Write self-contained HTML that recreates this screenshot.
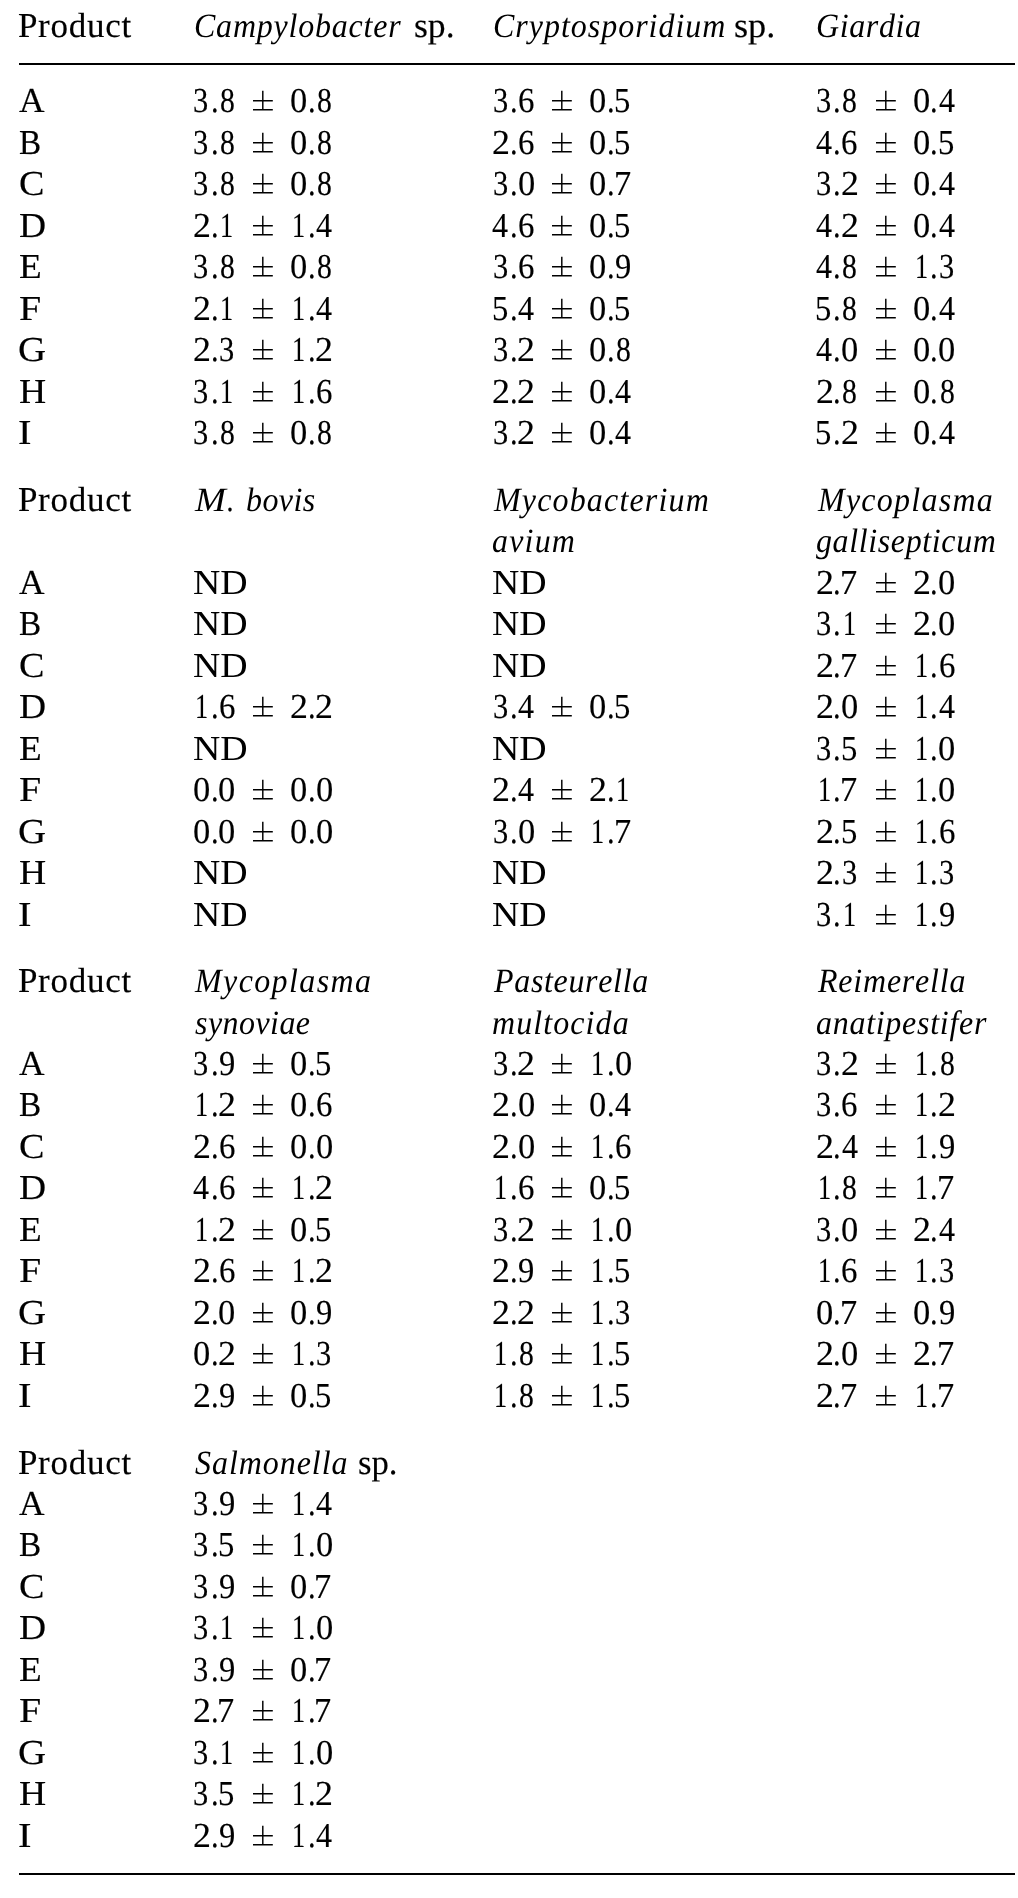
<!DOCTYPE html>
<html><head><meta charset="utf-8"><title>Table</title>
<style>
html,body{margin:0;padding:0;background:#fff;}
body{width:1018px;height:1898px;position:relative;overflow:hidden;}
.t{position:absolute;white-space:pre;font-family:"Liberation Serif",serif;font-size:35px;line-height:40px;height:40px;color:#000;font-kerning:none;text-rendering:geometricPrecision;transform-origin:0 0;}
.r{-webkit-text-stroke:0.15px #000;}
.i{font-style:italic;font-size:34px;}
.pm{position:absolute;overflow:visible;}
.rule{position:absolute;left:19px;width:996px;height:2px;background:#000;}
</style></head><body>
<div id="pg" style="position:absolute;left:0;top:0;width:1018px;height:1898px;will-change:transform">
<svg width="0" height="0" style="position:absolute"><defs><g id="pmg" stroke="#000" stroke-width="1.45" fill="none"><path d="M0 10.7H19.8M0 19.75H19.8M9.8 0.75V19.75"/></g></defs></svg>
<div class="rule" style="top:63px"></div>
<div class="rule" style="top:1873px"></div>
<div class="t r" style="left:17.89px;top:6.00px;letter-spacing:0.75px">Product</div>
<div class="t i" style="left:193.72px;top:7.00px;letter-spacing:0.845px;transform:scaleX(0.9400)">Campylobacter</div>
<div class="t r" style="left:414.34px;top:6.00px;transform:scaleX(1.0186)">sp.</div>
<div class="t i" style="left:492.92px;top:7.00px;letter-spacing:1.064px;transform:scaleX(0.9400)">Cryptosporidium</div>
<div class="t r" style="left:734.31px;top:6.00px;transform:scaleX(1.0352)">sp.</div>
<div class="t i" style="left:815.94px;top:7.00px;letter-spacing:0.682px;transform:scaleX(0.9400)">Giardia</div>
<div class="t r" style="left:18.65px;top:81.10px;transform:scaleX(1.0131)">A</div>
<div class="t r" style="left:193.41px;top:81.10px;transform:scaleX(0.8688)">3</div>
<div class="t r" style="left:210.53px;top:81.10px;transform:scaleX(0.8689)">.</div>
<div class="t r" style="left:219.64px;top:81.10px;transform:scaleX(0.8490)">8</div>
<svg class="pm" style="left:252.90px;top:90px" width="20" height="22"><use href="#pmg"/></svg>
<div class="t r" style="left:290.06px;top:81.10px;transform:scaleX(0.9865)">0</div>
<div class="t r" style="left:307.63px;top:81.10px;transform:scaleX(0.8689)">.</div>
<div class="t r" style="left:316.74px;top:81.10px;transform:scaleX(0.8490)">8</div>
<div class="t r" style="left:492.51px;top:81.10px;transform:scaleX(0.8688)">3</div>
<div class="t r" style="left:509.63px;top:81.10px;transform:scaleX(0.8689)">.</div>
<div class="t r" style="left:517.75px;top:81.10px;transform:scaleX(0.9396)">6</div>
<svg class="pm" style="left:552.00px;top:90px" width="20" height="22"><use href="#pmg"/></svg>
<div class="t r" style="left:589.16px;top:81.10px;transform:scaleX(0.9865)">0</div>
<div class="t r" style="left:606.73px;top:81.10px;transform:scaleX(0.8689)">.</div>
<div class="t r" style="left:614.27px;top:81.10px;transform:scaleX(0.9323)">5</div>
<div class="t r" style="left:816.21px;top:81.10px;transform:scaleX(0.8688)">3</div>
<div class="t r" style="left:833.33px;top:81.10px;transform:scaleX(0.8689)">.</div>
<div class="t r" style="left:842.44px;top:81.10px;transform:scaleX(0.8490)">8</div>
<svg class="pm" style="left:875.70px;top:90px" width="20" height="22"><use href="#pmg"/></svg>
<div class="t r" style="left:912.86px;top:81.10px;transform:scaleX(0.9865)">0</div>
<div class="t r" style="left:930.43px;top:81.10px;transform:scaleX(0.8689)">.</div>
<div class="t r" style="left:938.61px;top:81.10px;transform:scaleX(0.9154)">4</div>
<div class="t r" style="left:19.14px;top:122.60px;transform:scaleX(0.9502)">B</div>
<div class="t r" style="left:193.41px;top:122.60px;transform:scaleX(0.8688)">3</div>
<div class="t r" style="left:210.53px;top:122.60px;transform:scaleX(0.8689)">.</div>
<div class="t r" style="left:219.64px;top:122.60px;transform:scaleX(0.8490)">8</div>
<svg class="pm" style="left:252.90px;top:132px" width="20" height="22"><use href="#pmg"/></svg>
<div class="t r" style="left:290.06px;top:122.60px;transform:scaleX(0.9865)">0</div>
<div class="t r" style="left:307.63px;top:122.60px;transform:scaleX(0.8689)">.</div>
<div class="t r" style="left:316.74px;top:122.60px;transform:scaleX(0.8490)">8</div>
<div class="t r" style="left:491.99px;top:122.60px;transform:scaleX(1.0268)">2</div>
<div class="t r" style="left:509.63px;top:122.60px;transform:scaleX(0.8689)">.</div>
<div class="t r" style="left:517.75px;top:122.60px;transform:scaleX(0.9396)">6</div>
<svg class="pm" style="left:552.00px;top:132px" width="20" height="22"><use href="#pmg"/></svg>
<div class="t r" style="left:589.16px;top:122.60px;transform:scaleX(0.9865)">0</div>
<div class="t r" style="left:606.73px;top:122.60px;transform:scaleX(0.8689)">.</div>
<div class="t r" style="left:614.27px;top:122.60px;transform:scaleX(0.9323)">5</div>
<div class="t r" style="left:816.04px;top:122.60px;transform:scaleX(0.9154)">4</div>
<div class="t r" style="left:833.33px;top:122.60px;transform:scaleX(0.8689)">.</div>
<div class="t r" style="left:841.45px;top:122.60px;transform:scaleX(0.9396)">6</div>
<svg class="pm" style="left:875.70px;top:132px" width="20" height="22"><use href="#pmg"/></svg>
<div class="t r" style="left:912.86px;top:122.60px;transform:scaleX(0.9865)">0</div>
<div class="t r" style="left:930.43px;top:122.60px;transform:scaleX(0.8689)">.</div>
<div class="t r" style="left:937.97px;top:122.60px;transform:scaleX(0.9323)">5</div>
<div class="t r" style="left:18.53px;top:164.10px;transform:scaleX(1.0912)">C</div>
<div class="t r" style="left:193.41px;top:164.10px;transform:scaleX(0.8688)">3</div>
<div class="t r" style="left:210.53px;top:164.10px;transform:scaleX(0.8689)">.</div>
<div class="t r" style="left:219.64px;top:164.10px;transform:scaleX(0.8490)">8</div>
<svg class="pm" style="left:252.90px;top:173px" width="20" height="22"><use href="#pmg"/></svg>
<div class="t r" style="left:290.06px;top:164.10px;transform:scaleX(0.9865)">0</div>
<div class="t r" style="left:307.63px;top:164.10px;transform:scaleX(0.8689)">.</div>
<div class="t r" style="left:316.74px;top:164.10px;transform:scaleX(0.8490)">8</div>
<div class="t r" style="left:492.51px;top:164.10px;transform:scaleX(0.8688)">3</div>
<div class="t r" style="left:509.63px;top:164.10px;transform:scaleX(0.8689)">.</div>
<div class="t r" style="left:517.52px;top:164.10px;transform:scaleX(0.9865)">0</div>
<svg class="pm" style="left:552.00px;top:173px" width="20" height="22"><use href="#pmg"/></svg>
<div class="t r" style="left:589.16px;top:164.10px;transform:scaleX(0.9865)">0</div>
<div class="t r" style="left:606.73px;top:164.10px;transform:scaleX(0.8689)">.</div>
<div class="t r" style="left:613.52px;top:164.10px;transform:scaleX(0.9792)">7</div>
<div class="t r" style="left:816.21px;top:164.10px;transform:scaleX(0.8688)">3</div>
<div class="t r" style="left:833.33px;top:164.10px;transform:scaleX(0.8689)">.</div>
<div class="t r" style="left:841.15px;top:164.10px;transform:scaleX(1.0268)">2</div>
<svg class="pm" style="left:875.70px;top:173px" width="20" height="22"><use href="#pmg"/></svg>
<div class="t r" style="left:912.86px;top:164.10px;transform:scaleX(0.9865)">0</div>
<div class="t r" style="left:930.43px;top:164.10px;transform:scaleX(0.8689)">.</div>
<div class="t r" style="left:938.61px;top:164.10px;transform:scaleX(0.9154)">4</div>
<div class="t r" style="left:19.02px;top:205.60px;transform:scaleX(1.0714)">D</div>
<div class="t r" style="left:192.89px;top:205.60px;transform:scaleX(1.0268)">2</div>
<div class="t r" style="left:210.53px;top:205.60px;transform:scaleX(0.8689)">.</div>
<div class="t r" style="left:220.23px;top:205.60px;transform:scaleX(0.7476)">1</div>
<svg class="pm" style="left:252.90px;top:215px" width="20" height="22"><use href="#pmg"/></svg>
<div class="t r" style="left:291.87px;top:205.60px;transform:scaleX(0.7476)">1</div>
<div class="t r" style="left:307.63px;top:205.60px;transform:scaleX(0.8689)">.</div>
<div class="t r" style="left:315.81px;top:205.60px;transform:scaleX(0.9154)">4</div>
<div class="t r" style="left:492.34px;top:205.60px;transform:scaleX(0.9154)">4</div>
<div class="t r" style="left:509.63px;top:205.60px;transform:scaleX(0.8689)">.</div>
<div class="t r" style="left:517.75px;top:205.60px;transform:scaleX(0.9396)">6</div>
<svg class="pm" style="left:552.00px;top:215px" width="20" height="22"><use href="#pmg"/></svg>
<div class="t r" style="left:589.16px;top:205.60px;transform:scaleX(0.9865)">0</div>
<div class="t r" style="left:606.73px;top:205.60px;transform:scaleX(0.8689)">.</div>
<div class="t r" style="left:614.27px;top:205.60px;transform:scaleX(0.9323)">5</div>
<div class="t r" style="left:816.04px;top:205.60px;transform:scaleX(0.9154)">4</div>
<div class="t r" style="left:833.33px;top:205.60px;transform:scaleX(0.8689)">.</div>
<div class="t r" style="left:841.15px;top:205.60px;transform:scaleX(1.0268)">2</div>
<svg class="pm" style="left:875.70px;top:215px" width="20" height="22"><use href="#pmg"/></svg>
<div class="t r" style="left:912.86px;top:205.60px;transform:scaleX(0.9865)">0</div>
<div class="t r" style="left:930.43px;top:205.60px;transform:scaleX(0.8689)">.</div>
<div class="t r" style="left:938.61px;top:205.60px;transform:scaleX(0.9154)">4</div>
<div class="t r" style="left:19.03px;top:247.10px;transform:scaleX(1.0629)">E</div>
<div class="t r" style="left:193.41px;top:247.10px;transform:scaleX(0.8688)">3</div>
<div class="t r" style="left:210.53px;top:247.10px;transform:scaleX(0.8689)">.</div>
<div class="t r" style="left:219.64px;top:247.10px;transform:scaleX(0.8490)">8</div>
<svg class="pm" style="left:252.90px;top:256px" width="20" height="22"><use href="#pmg"/></svg>
<div class="t r" style="left:290.06px;top:247.10px;transform:scaleX(0.9865)">0</div>
<div class="t r" style="left:307.63px;top:247.10px;transform:scaleX(0.8689)">.</div>
<div class="t r" style="left:316.74px;top:247.10px;transform:scaleX(0.8490)">8</div>
<div class="t r" style="left:492.51px;top:247.10px;transform:scaleX(0.8688)">3</div>
<div class="t r" style="left:509.63px;top:247.10px;transform:scaleX(0.8689)">.</div>
<div class="t r" style="left:517.75px;top:247.10px;transform:scaleX(0.9396)">6</div>
<svg class="pm" style="left:552.00px;top:256px" width="20" height="22"><use href="#pmg"/></svg>
<div class="t r" style="left:589.16px;top:247.10px;transform:scaleX(0.9865)">0</div>
<div class="t r" style="left:606.73px;top:247.10px;transform:scaleX(0.8689)">.</div>
<div class="t r" style="left:615.07px;top:247.10px;transform:scaleX(0.9299)">9</div>
<div class="t r" style="left:816.04px;top:247.10px;transform:scaleX(0.9154)">4</div>
<div class="t r" style="left:833.33px;top:247.10px;transform:scaleX(0.8689)">.</div>
<div class="t r" style="left:842.44px;top:247.10px;transform:scaleX(0.8490)">8</div>
<svg class="pm" style="left:875.70px;top:256px" width="20" height="22"><use href="#pmg"/></svg>
<div class="t r" style="left:914.67px;top:247.10px;transform:scaleX(0.7476)">1</div>
<div class="t r" style="left:930.43px;top:247.10px;transform:scaleX(0.8689)">.</div>
<div class="t r" style="left:938.77px;top:247.10px;transform:scaleX(0.8688)">3</div>
<div class="t r" style="left:18.95px;top:288.60px;transform:scaleX(1.1400)">F</div>
<div class="t r" style="left:192.89px;top:288.60px;transform:scaleX(1.0268)">2</div>
<div class="t r" style="left:210.53px;top:288.60px;transform:scaleX(0.8689)">.</div>
<div class="t r" style="left:220.23px;top:288.60px;transform:scaleX(0.7476)">1</div>
<svg class="pm" style="left:252.90px;top:298px" width="20" height="22"><use href="#pmg"/></svg>
<div class="t r" style="left:291.87px;top:288.60px;transform:scaleX(0.7476)">1</div>
<div class="t r" style="left:307.63px;top:288.60px;transform:scaleX(0.8689)">.</div>
<div class="t r" style="left:315.81px;top:288.60px;transform:scaleX(0.9154)">4</div>
<div class="t r" style="left:491.71px;top:288.60px;transform:scaleX(0.9323)">5</div>
<div class="t r" style="left:509.63px;top:288.60px;transform:scaleX(0.8689)">.</div>
<div class="t r" style="left:517.81px;top:288.60px;transform:scaleX(0.9154)">4</div>
<svg class="pm" style="left:552.00px;top:298px" width="20" height="22"><use href="#pmg"/></svg>
<div class="t r" style="left:589.16px;top:288.60px;transform:scaleX(0.9865)">0</div>
<div class="t r" style="left:606.73px;top:288.60px;transform:scaleX(0.8689)">.</div>
<div class="t r" style="left:614.27px;top:288.60px;transform:scaleX(0.9323)">5</div>
<div class="t r" style="left:815.41px;top:288.60px;transform:scaleX(0.9323)">5</div>
<div class="t r" style="left:833.33px;top:288.60px;transform:scaleX(0.8689)">.</div>
<div class="t r" style="left:842.44px;top:288.60px;transform:scaleX(0.8490)">8</div>
<svg class="pm" style="left:875.70px;top:298px" width="20" height="22"><use href="#pmg"/></svg>
<div class="t r" style="left:912.86px;top:288.60px;transform:scaleX(0.9865)">0</div>
<div class="t r" style="left:930.43px;top:288.60px;transform:scaleX(0.8689)">.</div>
<div class="t r" style="left:938.61px;top:288.60px;transform:scaleX(0.9154)">4</div>
<div class="t r" style="left:18.20px;top:330.10px;transform:scaleX(1.1123)">G</div>
<div class="t r" style="left:192.89px;top:330.10px;transform:scaleX(1.0268)">2</div>
<div class="t r" style="left:210.53px;top:330.10px;transform:scaleX(0.8689)">.</div>
<div class="t r" style="left:218.87px;top:330.10px;transform:scaleX(0.8688)">3</div>
<svg class="pm" style="left:252.90px;top:339px" width="20" height="22"><use href="#pmg"/></svg>
<div class="t r" style="left:291.87px;top:330.10px;transform:scaleX(0.7476)">1</div>
<div class="t r" style="left:307.63px;top:330.10px;transform:scaleX(0.8689)">.</div>
<div class="t r" style="left:315.45px;top:330.10px;transform:scaleX(1.0268)">2</div>
<div class="t r" style="left:492.51px;top:330.10px;transform:scaleX(0.8688)">3</div>
<div class="t r" style="left:509.63px;top:330.10px;transform:scaleX(0.8689)">.</div>
<div class="t r" style="left:517.45px;top:330.10px;transform:scaleX(1.0268)">2</div>
<svg class="pm" style="left:552.00px;top:339px" width="20" height="22"><use href="#pmg"/></svg>
<div class="t r" style="left:589.16px;top:330.10px;transform:scaleX(0.9865)">0</div>
<div class="t r" style="left:606.73px;top:330.10px;transform:scaleX(0.8689)">.</div>
<div class="t r" style="left:615.84px;top:330.10px;transform:scaleX(0.8490)">8</div>
<div class="t r" style="left:816.04px;top:330.10px;transform:scaleX(0.9154)">4</div>
<div class="t r" style="left:833.33px;top:330.10px;transform:scaleX(0.8689)">.</div>
<div class="t r" style="left:841.22px;top:330.10px;transform:scaleX(0.9865)">0</div>
<svg class="pm" style="left:875.70px;top:339px" width="20" height="22"><use href="#pmg"/></svg>
<div class="t r" style="left:912.86px;top:330.10px;transform:scaleX(0.9865)">0</div>
<div class="t r" style="left:930.43px;top:330.10px;transform:scaleX(0.8689)">.</div>
<div class="t r" style="left:938.32px;top:330.10px;transform:scaleX(0.9865)">0</div>
<div class="t r" style="left:18.72px;top:371.60px;transform:scaleX(1.0756)">H</div>
<div class="t r" style="left:193.41px;top:371.60px;transform:scaleX(0.8688)">3</div>
<div class="t r" style="left:210.53px;top:371.60px;transform:scaleX(0.8689)">.</div>
<div class="t r" style="left:220.23px;top:371.60px;transform:scaleX(0.7476)">1</div>
<svg class="pm" style="left:252.90px;top:381px" width="20" height="22"><use href="#pmg"/></svg>
<div class="t r" style="left:291.87px;top:371.60px;transform:scaleX(0.7476)">1</div>
<div class="t r" style="left:307.63px;top:371.60px;transform:scaleX(0.8689)">.</div>
<div class="t r" style="left:315.75px;top:371.60px;transform:scaleX(0.9396)">6</div>
<div class="t r" style="left:491.99px;top:371.60px;transform:scaleX(1.0268)">2</div>
<div class="t r" style="left:509.63px;top:371.60px;transform:scaleX(0.8689)">.</div>
<div class="t r" style="left:517.45px;top:371.60px;transform:scaleX(1.0268)">2</div>
<svg class="pm" style="left:552.00px;top:381px" width="20" height="22"><use href="#pmg"/></svg>
<div class="t r" style="left:589.16px;top:371.60px;transform:scaleX(0.9865)">0</div>
<div class="t r" style="left:606.73px;top:371.60px;transform:scaleX(0.8689)">.</div>
<div class="t r" style="left:614.91px;top:371.60px;transform:scaleX(0.9154)">4</div>
<div class="t r" style="left:815.69px;top:371.60px;transform:scaleX(1.0268)">2</div>
<div class="t r" style="left:833.33px;top:371.60px;transform:scaleX(0.8689)">.</div>
<div class="t r" style="left:842.44px;top:371.60px;transform:scaleX(0.8490)">8</div>
<svg class="pm" style="left:875.70px;top:381px" width="20" height="22"><use href="#pmg"/></svg>
<div class="t r" style="left:912.86px;top:371.60px;transform:scaleX(0.9865)">0</div>
<div class="t r" style="left:930.43px;top:371.60px;transform:scaleX(0.8689)">.</div>
<div class="t r" style="left:939.54px;top:371.60px;transform:scaleX(0.8490)">8</div>
<div class="t r" style="left:18.24px;top:413.10px;transform:scaleX(1.1572)">I</div>
<div class="t r" style="left:193.41px;top:413.10px;transform:scaleX(0.8688)">3</div>
<div class="t r" style="left:210.53px;top:413.10px;transform:scaleX(0.8689)">.</div>
<div class="t r" style="left:219.64px;top:413.10px;transform:scaleX(0.8490)">8</div>
<svg class="pm" style="left:252.90px;top:422px" width="20" height="22"><use href="#pmg"/></svg>
<div class="t r" style="left:290.06px;top:413.10px;transform:scaleX(0.9865)">0</div>
<div class="t r" style="left:307.63px;top:413.10px;transform:scaleX(0.8689)">.</div>
<div class="t r" style="left:316.74px;top:413.10px;transform:scaleX(0.8490)">8</div>
<div class="t r" style="left:492.51px;top:413.10px;transform:scaleX(0.8688)">3</div>
<div class="t r" style="left:509.63px;top:413.10px;transform:scaleX(0.8689)">.</div>
<div class="t r" style="left:517.45px;top:413.10px;transform:scaleX(1.0268)">2</div>
<svg class="pm" style="left:552.00px;top:422px" width="20" height="22"><use href="#pmg"/></svg>
<div class="t r" style="left:589.16px;top:413.10px;transform:scaleX(0.9865)">0</div>
<div class="t r" style="left:606.73px;top:413.10px;transform:scaleX(0.8689)">.</div>
<div class="t r" style="left:614.91px;top:413.10px;transform:scaleX(0.9154)">4</div>
<div class="t r" style="left:815.41px;top:413.10px;transform:scaleX(0.9323)">5</div>
<div class="t r" style="left:833.33px;top:413.10px;transform:scaleX(0.8689)">.</div>
<div class="t r" style="left:841.15px;top:413.10px;transform:scaleX(1.0268)">2</div>
<svg class="pm" style="left:875.70px;top:422px" width="20" height="22"><use href="#pmg"/></svg>
<div class="t r" style="left:912.86px;top:413.10px;transform:scaleX(0.9865)">0</div>
<div class="t r" style="left:930.43px;top:413.10px;transform:scaleX(0.8689)">.</div>
<div class="t r" style="left:938.61px;top:413.10px;transform:scaleX(0.9154)">4</div>
<div class="t r" style="left:17.89px;top:479.80px;letter-spacing:0.75px">Product</div>
<div class="t i" style="left:194.53px;top:480.80px;transform:scaleX(1.0898)">M</div>
<div class="t i" style="left:227.37px;top:480.80px;transform:scaleX(0.8712)">.</div>
<div class="t i" style="left:246.41px;top:480.80px;letter-spacing:0.476px;transform:scaleX(0.9400)">bovis</div>
<div class="t i" style="left:494.37px;top:480.80px;letter-spacing:1.259px;transform:scaleX(0.9400)">Mycobacterium</div>
<div class="t i" style="left:491.95px;top:522.10px;letter-spacing:1.274px;transform:scaleX(0.9400)">avium</div>
<div class="t i" style="left:818.17px;top:480.80px;letter-spacing:1.349px;transform:scaleX(0.9400)">Mycoplasma</div>
<div class="t i" style="left:816.28px;top:522.10px;letter-spacing:0.678px;transform:scaleX(0.9400)">gallisepticum</div>
<div class="t r" style="left:18.65px;top:562.60px;transform:scaleX(1.0131)">A</div>
<div class="t" style="left:193.10px;top:562.60px;transform:scaleX(1.0800)">ND</div>
<div class="t" style="left:492.20px;top:562.60px;transform:scaleX(1.0800)">ND</div>
<div class="t r" style="left:815.69px;top:562.60px;transform:scaleX(1.0268)">2</div>
<div class="t r" style="left:833.33px;top:562.60px;transform:scaleX(0.8689)">.</div>
<div class="t r" style="left:840.12px;top:562.60px;transform:scaleX(0.9792)">7</div>
<svg class="pm" style="left:875.70px;top:572px" width="20" height="22"><use href="#pmg"/></svg>
<div class="t r" style="left:912.79px;top:562.60px;transform:scaleX(1.0268)">2</div>
<div class="t r" style="left:930.43px;top:562.60px;transform:scaleX(0.8689)">.</div>
<div class="t r" style="left:938.32px;top:562.60px;transform:scaleX(0.9865)">0</div>
<div class="t r" style="left:19.14px;top:604.10px;transform:scaleX(0.9502)">B</div>
<div class="t" style="left:193.10px;top:604.10px;transform:scaleX(1.0800)">ND</div>
<div class="t" style="left:492.20px;top:604.10px;transform:scaleX(1.0800)">ND</div>
<div class="t r" style="left:816.21px;top:604.10px;transform:scaleX(0.8688)">3</div>
<div class="t r" style="left:833.33px;top:604.10px;transform:scaleX(0.8689)">.</div>
<div class="t r" style="left:843.03px;top:604.10px;transform:scaleX(0.7476)">1</div>
<svg class="pm" style="left:875.70px;top:613px" width="20" height="22"><use href="#pmg"/></svg>
<div class="t r" style="left:912.79px;top:604.10px;transform:scaleX(1.0268)">2</div>
<div class="t r" style="left:930.43px;top:604.10px;transform:scaleX(0.8689)">.</div>
<div class="t r" style="left:938.32px;top:604.10px;transform:scaleX(0.9865)">0</div>
<div class="t r" style="left:18.53px;top:645.60px;transform:scaleX(1.0912)">C</div>
<div class="t" style="left:193.10px;top:645.60px;transform:scaleX(1.0800)">ND</div>
<div class="t" style="left:492.20px;top:645.60px;transform:scaleX(1.0800)">ND</div>
<div class="t r" style="left:815.69px;top:645.60px;transform:scaleX(1.0268)">2</div>
<div class="t r" style="left:833.33px;top:645.60px;transform:scaleX(0.8689)">.</div>
<div class="t r" style="left:840.12px;top:645.60px;transform:scaleX(0.9792)">7</div>
<svg class="pm" style="left:875.70px;top:655px" width="20" height="22"><use href="#pmg"/></svg>
<div class="t r" style="left:914.67px;top:645.60px;transform:scaleX(0.7476)">1</div>
<div class="t r" style="left:930.43px;top:645.60px;transform:scaleX(0.8689)">.</div>
<div class="t r" style="left:938.55px;top:645.60px;transform:scaleX(0.9396)">6</div>
<div class="t r" style="left:19.02px;top:687.10px;transform:scaleX(1.0714)">D</div>
<div class="t r" style="left:194.77px;top:687.10px;transform:scaleX(0.7476)">1</div>
<div class="t r" style="left:210.53px;top:687.10px;transform:scaleX(0.8689)">.</div>
<div class="t r" style="left:218.65px;top:687.10px;transform:scaleX(0.9396)">6</div>
<svg class="pm" style="left:252.90px;top:696px" width="20" height="22"><use href="#pmg"/></svg>
<div class="t r" style="left:289.99px;top:687.10px;transform:scaleX(1.0268)">2</div>
<div class="t r" style="left:307.63px;top:687.10px;transform:scaleX(0.8689)">.</div>
<div class="t r" style="left:315.45px;top:687.10px;transform:scaleX(1.0268)">2</div>
<div class="t r" style="left:492.51px;top:687.10px;transform:scaleX(0.8688)">3</div>
<div class="t r" style="left:509.63px;top:687.10px;transform:scaleX(0.8689)">.</div>
<div class="t r" style="left:517.81px;top:687.10px;transform:scaleX(0.9154)">4</div>
<svg class="pm" style="left:552.00px;top:696px" width="20" height="22"><use href="#pmg"/></svg>
<div class="t r" style="left:589.16px;top:687.10px;transform:scaleX(0.9865)">0</div>
<div class="t r" style="left:606.73px;top:687.10px;transform:scaleX(0.8689)">.</div>
<div class="t r" style="left:614.27px;top:687.10px;transform:scaleX(0.9323)">5</div>
<div class="t r" style="left:815.69px;top:687.10px;transform:scaleX(1.0268)">2</div>
<div class="t r" style="left:833.33px;top:687.10px;transform:scaleX(0.8689)">.</div>
<div class="t r" style="left:841.22px;top:687.10px;transform:scaleX(0.9865)">0</div>
<svg class="pm" style="left:875.70px;top:696px" width="20" height="22"><use href="#pmg"/></svg>
<div class="t r" style="left:914.67px;top:687.10px;transform:scaleX(0.7476)">1</div>
<div class="t r" style="left:930.43px;top:687.10px;transform:scaleX(0.8689)">.</div>
<div class="t r" style="left:938.61px;top:687.10px;transform:scaleX(0.9154)">4</div>
<div class="t r" style="left:19.03px;top:728.60px;transform:scaleX(1.0629)">E</div>
<div class="t" style="left:193.10px;top:728.60px;transform:scaleX(1.0800)">ND</div>
<div class="t" style="left:492.20px;top:728.60px;transform:scaleX(1.0800)">ND</div>
<div class="t r" style="left:816.21px;top:728.60px;transform:scaleX(0.8688)">3</div>
<div class="t r" style="left:833.33px;top:728.60px;transform:scaleX(0.8689)">.</div>
<div class="t r" style="left:840.87px;top:728.60px;transform:scaleX(0.9323)">5</div>
<svg class="pm" style="left:875.70px;top:738px" width="20" height="22"><use href="#pmg"/></svg>
<div class="t r" style="left:914.67px;top:728.60px;transform:scaleX(0.7476)">1</div>
<div class="t r" style="left:930.43px;top:728.60px;transform:scaleX(0.8689)">.</div>
<div class="t r" style="left:938.32px;top:728.60px;transform:scaleX(0.9865)">0</div>
<div class="t r" style="left:18.95px;top:770.10px;transform:scaleX(1.1400)">F</div>
<div class="t r" style="left:192.96px;top:770.10px;transform:scaleX(0.9865)">0</div>
<div class="t r" style="left:210.53px;top:770.10px;transform:scaleX(0.8689)">.</div>
<div class="t r" style="left:218.42px;top:770.10px;transform:scaleX(0.9865)">0</div>
<svg class="pm" style="left:252.90px;top:779px" width="20" height="22"><use href="#pmg"/></svg>
<div class="t r" style="left:290.06px;top:770.10px;transform:scaleX(0.9865)">0</div>
<div class="t r" style="left:307.63px;top:770.10px;transform:scaleX(0.8689)">.</div>
<div class="t r" style="left:315.52px;top:770.10px;transform:scaleX(0.9865)">0</div>
<div class="t r" style="left:491.99px;top:770.10px;transform:scaleX(1.0268)">2</div>
<div class="t r" style="left:509.63px;top:770.10px;transform:scaleX(0.8689)">.</div>
<div class="t r" style="left:517.81px;top:770.10px;transform:scaleX(0.9154)">4</div>
<svg class="pm" style="left:552.00px;top:779px" width="20" height="22"><use href="#pmg"/></svg>
<div class="t r" style="left:589.09px;top:770.10px;transform:scaleX(1.0268)">2</div>
<div class="t r" style="left:606.73px;top:770.10px;transform:scaleX(0.8689)">.</div>
<div class="t r" style="left:616.43px;top:770.10px;transform:scaleX(0.7476)">1</div>
<div class="t r" style="left:817.57px;top:770.10px;transform:scaleX(0.7476)">1</div>
<div class="t r" style="left:833.33px;top:770.10px;transform:scaleX(0.8689)">.</div>
<div class="t r" style="left:840.12px;top:770.10px;transform:scaleX(0.9792)">7</div>
<svg class="pm" style="left:875.70px;top:779px" width="20" height="22"><use href="#pmg"/></svg>
<div class="t r" style="left:914.67px;top:770.10px;transform:scaleX(0.7476)">1</div>
<div class="t r" style="left:930.43px;top:770.10px;transform:scaleX(0.8689)">.</div>
<div class="t r" style="left:938.32px;top:770.10px;transform:scaleX(0.9865)">0</div>
<div class="t r" style="left:18.20px;top:811.60px;transform:scaleX(1.1123)">G</div>
<div class="t r" style="left:192.96px;top:811.60px;transform:scaleX(0.9865)">0</div>
<div class="t r" style="left:210.53px;top:811.60px;transform:scaleX(0.8689)">.</div>
<div class="t r" style="left:218.42px;top:811.60px;transform:scaleX(0.9865)">0</div>
<svg class="pm" style="left:252.90px;top:821px" width="20" height="22"><use href="#pmg"/></svg>
<div class="t r" style="left:290.06px;top:811.60px;transform:scaleX(0.9865)">0</div>
<div class="t r" style="left:307.63px;top:811.60px;transform:scaleX(0.8689)">.</div>
<div class="t r" style="left:315.52px;top:811.60px;transform:scaleX(0.9865)">0</div>
<div class="t r" style="left:492.51px;top:811.60px;transform:scaleX(0.8688)">3</div>
<div class="t r" style="left:509.63px;top:811.60px;transform:scaleX(0.8689)">.</div>
<div class="t r" style="left:517.52px;top:811.60px;transform:scaleX(0.9865)">0</div>
<svg class="pm" style="left:552.00px;top:821px" width="20" height="22"><use href="#pmg"/></svg>
<div class="t r" style="left:590.97px;top:811.60px;transform:scaleX(0.7476)">1</div>
<div class="t r" style="left:606.73px;top:811.60px;transform:scaleX(0.8689)">.</div>
<div class="t r" style="left:613.52px;top:811.60px;transform:scaleX(0.9792)">7</div>
<div class="t r" style="left:815.69px;top:811.60px;transform:scaleX(1.0268)">2</div>
<div class="t r" style="left:833.33px;top:811.60px;transform:scaleX(0.8689)">.</div>
<div class="t r" style="left:840.87px;top:811.60px;transform:scaleX(0.9323)">5</div>
<svg class="pm" style="left:875.70px;top:821px" width="20" height="22"><use href="#pmg"/></svg>
<div class="t r" style="left:914.67px;top:811.60px;transform:scaleX(0.7476)">1</div>
<div class="t r" style="left:930.43px;top:811.60px;transform:scaleX(0.8689)">.</div>
<div class="t r" style="left:938.55px;top:811.60px;transform:scaleX(0.9396)">6</div>
<div class="t r" style="left:18.72px;top:853.10px;transform:scaleX(1.0756)">H</div>
<div class="t" style="left:193.10px;top:853.10px;transform:scaleX(1.0800)">ND</div>
<div class="t" style="left:492.20px;top:853.10px;transform:scaleX(1.0800)">ND</div>
<div class="t r" style="left:815.69px;top:853.10px;transform:scaleX(1.0268)">2</div>
<div class="t r" style="left:833.33px;top:853.10px;transform:scaleX(0.8689)">.</div>
<div class="t r" style="left:841.67px;top:853.10px;transform:scaleX(0.8688)">3</div>
<svg class="pm" style="left:875.70px;top:862px" width="20" height="22"><use href="#pmg"/></svg>
<div class="t r" style="left:914.67px;top:853.10px;transform:scaleX(0.7476)">1</div>
<div class="t r" style="left:930.43px;top:853.10px;transform:scaleX(0.8689)">.</div>
<div class="t r" style="left:938.77px;top:853.10px;transform:scaleX(0.8688)">3</div>
<div class="t r" style="left:18.24px;top:894.60px;transform:scaleX(1.1572)">I</div>
<div class="t" style="left:193.10px;top:894.60px;transform:scaleX(1.0800)">ND</div>
<div class="t" style="left:492.20px;top:894.60px;transform:scaleX(1.0800)">ND</div>
<div class="t r" style="left:816.21px;top:894.60px;transform:scaleX(0.8688)">3</div>
<div class="t r" style="left:833.33px;top:894.60px;transform:scaleX(0.8689)">.</div>
<div class="t r" style="left:843.03px;top:894.60px;transform:scaleX(0.7476)">1</div>
<svg class="pm" style="left:875.70px;top:904px" width="20" height="22"><use href="#pmg"/></svg>
<div class="t r" style="left:914.67px;top:894.60px;transform:scaleX(0.7476)">1</div>
<div class="t r" style="left:930.43px;top:894.60px;transform:scaleX(0.8689)">.</div>
<div class="t r" style="left:938.77px;top:894.60px;transform:scaleX(0.9299)">9</div>
<div class="t r" style="left:17.89px;top:960.80px;letter-spacing:0.75px">Product</div>
<div class="t i" style="left:195.27px;top:961.80px;letter-spacing:1.503px;transform:scaleX(0.9400)">Mycoplasma</div>
<div class="t i" style="left:194.51px;top:1003.80px;letter-spacing:0.486px;transform:scaleX(0.9400)">synoviae</div>
<div class="t i" style="left:494.17px;top:961.80px;letter-spacing:0.732px;transform:scaleX(0.9400)">Pasteurella</div>
<div class="t i" style="left:492.15px;top:1003.80px;letter-spacing:1.174px;transform:scaleX(0.9400)">multocida</div>
<div class="t i" style="left:817.97px;top:961.80px;letter-spacing:0.853px;transform:scaleX(0.9400)">Reimerella</div>
<div class="t i" style="left:816.05px;top:1003.80px;letter-spacing:0.78px;transform:scaleX(0.9400)">anatipestifer</div>
<div class="t r" style="left:18.65px;top:1043.60px;transform:scaleX(1.0131)">A</div>
<div class="t r" style="left:193.41px;top:1043.60px;transform:scaleX(0.8688)">3</div>
<div class="t r" style="left:210.53px;top:1043.60px;transform:scaleX(0.8689)">.</div>
<div class="t r" style="left:218.87px;top:1043.60px;transform:scaleX(0.9299)">9</div>
<svg class="pm" style="left:252.90px;top:1053px" width="20" height="22"><use href="#pmg"/></svg>
<div class="t r" style="left:290.06px;top:1043.60px;transform:scaleX(0.9865)">0</div>
<div class="t r" style="left:307.63px;top:1043.60px;transform:scaleX(0.8689)">.</div>
<div class="t r" style="left:315.17px;top:1043.60px;transform:scaleX(0.9323)">5</div>
<div class="t r" style="left:492.51px;top:1043.60px;transform:scaleX(0.8688)">3</div>
<div class="t r" style="left:509.63px;top:1043.60px;transform:scaleX(0.8689)">.</div>
<div class="t r" style="left:517.45px;top:1043.60px;transform:scaleX(1.0268)">2</div>
<svg class="pm" style="left:552.00px;top:1053px" width="20" height="22"><use href="#pmg"/></svg>
<div class="t r" style="left:590.97px;top:1043.60px;transform:scaleX(0.7476)">1</div>
<div class="t r" style="left:606.73px;top:1043.60px;transform:scaleX(0.8689)">.</div>
<div class="t r" style="left:614.62px;top:1043.60px;transform:scaleX(0.9865)">0</div>
<div class="t r" style="left:816.21px;top:1043.60px;transform:scaleX(0.8688)">3</div>
<div class="t r" style="left:833.33px;top:1043.60px;transform:scaleX(0.8689)">.</div>
<div class="t r" style="left:841.15px;top:1043.60px;transform:scaleX(1.0268)">2</div>
<svg class="pm" style="left:875.70px;top:1053px" width="20" height="22"><use href="#pmg"/></svg>
<div class="t r" style="left:914.67px;top:1043.60px;transform:scaleX(0.7476)">1</div>
<div class="t r" style="left:930.43px;top:1043.60px;transform:scaleX(0.8689)">.</div>
<div class="t r" style="left:939.54px;top:1043.60px;transform:scaleX(0.8490)">8</div>
<div class="t r" style="left:19.14px;top:1085.10px;transform:scaleX(0.9502)">B</div>
<div class="t r" style="left:194.77px;top:1085.10px;transform:scaleX(0.7476)">1</div>
<div class="t r" style="left:210.53px;top:1085.10px;transform:scaleX(0.8689)">.</div>
<div class="t r" style="left:218.35px;top:1085.10px;transform:scaleX(1.0268)">2</div>
<svg class="pm" style="left:252.90px;top:1094px" width="20" height="22"><use href="#pmg"/></svg>
<div class="t r" style="left:290.06px;top:1085.10px;transform:scaleX(0.9865)">0</div>
<div class="t r" style="left:307.63px;top:1085.10px;transform:scaleX(0.8689)">.</div>
<div class="t r" style="left:315.75px;top:1085.10px;transform:scaleX(0.9396)">6</div>
<div class="t r" style="left:491.99px;top:1085.10px;transform:scaleX(1.0268)">2</div>
<div class="t r" style="left:509.63px;top:1085.10px;transform:scaleX(0.8689)">.</div>
<div class="t r" style="left:517.52px;top:1085.10px;transform:scaleX(0.9865)">0</div>
<svg class="pm" style="left:552.00px;top:1094px" width="20" height="22"><use href="#pmg"/></svg>
<div class="t r" style="left:589.16px;top:1085.10px;transform:scaleX(0.9865)">0</div>
<div class="t r" style="left:606.73px;top:1085.10px;transform:scaleX(0.8689)">.</div>
<div class="t r" style="left:614.91px;top:1085.10px;transform:scaleX(0.9154)">4</div>
<div class="t r" style="left:816.21px;top:1085.10px;transform:scaleX(0.8688)">3</div>
<div class="t r" style="left:833.33px;top:1085.10px;transform:scaleX(0.8689)">.</div>
<div class="t r" style="left:841.45px;top:1085.10px;transform:scaleX(0.9396)">6</div>
<svg class="pm" style="left:875.70px;top:1094px" width="20" height="22"><use href="#pmg"/></svg>
<div class="t r" style="left:914.67px;top:1085.10px;transform:scaleX(0.7476)">1</div>
<div class="t r" style="left:930.43px;top:1085.10px;transform:scaleX(0.8689)">.</div>
<div class="t r" style="left:938.25px;top:1085.10px;transform:scaleX(1.0268)">2</div>
<div class="t r" style="left:18.53px;top:1126.60px;transform:scaleX(1.0912)">C</div>
<div class="t r" style="left:192.89px;top:1126.60px;transform:scaleX(1.0268)">2</div>
<div class="t r" style="left:210.53px;top:1126.60px;transform:scaleX(0.8689)">.</div>
<div class="t r" style="left:218.65px;top:1126.60px;transform:scaleX(0.9396)">6</div>
<svg class="pm" style="left:252.90px;top:1136px" width="20" height="22"><use href="#pmg"/></svg>
<div class="t r" style="left:290.06px;top:1126.60px;transform:scaleX(0.9865)">0</div>
<div class="t r" style="left:307.63px;top:1126.60px;transform:scaleX(0.8689)">.</div>
<div class="t r" style="left:315.52px;top:1126.60px;transform:scaleX(0.9865)">0</div>
<div class="t r" style="left:491.99px;top:1126.60px;transform:scaleX(1.0268)">2</div>
<div class="t r" style="left:509.63px;top:1126.60px;transform:scaleX(0.8689)">.</div>
<div class="t r" style="left:517.52px;top:1126.60px;transform:scaleX(0.9865)">0</div>
<svg class="pm" style="left:552.00px;top:1136px" width="20" height="22"><use href="#pmg"/></svg>
<div class="t r" style="left:590.97px;top:1126.60px;transform:scaleX(0.7476)">1</div>
<div class="t r" style="left:606.73px;top:1126.60px;transform:scaleX(0.8689)">.</div>
<div class="t r" style="left:614.85px;top:1126.60px;transform:scaleX(0.9396)">6</div>
<div class="t r" style="left:815.69px;top:1126.60px;transform:scaleX(1.0268)">2</div>
<div class="t r" style="left:833.33px;top:1126.60px;transform:scaleX(0.8689)">.</div>
<div class="t r" style="left:841.51px;top:1126.60px;transform:scaleX(0.9154)">4</div>
<svg class="pm" style="left:875.70px;top:1136px" width="20" height="22"><use href="#pmg"/></svg>
<div class="t r" style="left:914.67px;top:1126.60px;transform:scaleX(0.7476)">1</div>
<div class="t r" style="left:930.43px;top:1126.60px;transform:scaleX(0.8689)">.</div>
<div class="t r" style="left:938.77px;top:1126.60px;transform:scaleX(0.9299)">9</div>
<div class="t r" style="left:19.02px;top:1168.10px;transform:scaleX(1.0714)">D</div>
<div class="t r" style="left:193.24px;top:1168.10px;transform:scaleX(0.9154)">4</div>
<div class="t r" style="left:210.53px;top:1168.10px;transform:scaleX(0.8689)">.</div>
<div class="t r" style="left:218.65px;top:1168.10px;transform:scaleX(0.9396)">6</div>
<svg class="pm" style="left:252.90px;top:1177px" width="20" height="22"><use href="#pmg"/></svg>
<div class="t r" style="left:291.87px;top:1168.10px;transform:scaleX(0.7476)">1</div>
<div class="t r" style="left:307.63px;top:1168.10px;transform:scaleX(0.8689)">.</div>
<div class="t r" style="left:315.45px;top:1168.10px;transform:scaleX(1.0268)">2</div>
<div class="t r" style="left:493.87px;top:1168.10px;transform:scaleX(0.7476)">1</div>
<div class="t r" style="left:509.63px;top:1168.10px;transform:scaleX(0.8689)">.</div>
<div class="t r" style="left:517.75px;top:1168.10px;transform:scaleX(0.9396)">6</div>
<svg class="pm" style="left:552.00px;top:1177px" width="20" height="22"><use href="#pmg"/></svg>
<div class="t r" style="left:589.16px;top:1168.10px;transform:scaleX(0.9865)">0</div>
<div class="t r" style="left:606.73px;top:1168.10px;transform:scaleX(0.8689)">.</div>
<div class="t r" style="left:614.27px;top:1168.10px;transform:scaleX(0.9323)">5</div>
<div class="t r" style="left:817.57px;top:1168.10px;transform:scaleX(0.7476)">1</div>
<div class="t r" style="left:833.33px;top:1168.10px;transform:scaleX(0.8689)">.</div>
<div class="t r" style="left:842.44px;top:1168.10px;transform:scaleX(0.8490)">8</div>
<svg class="pm" style="left:875.70px;top:1177px" width="20" height="22"><use href="#pmg"/></svg>
<div class="t r" style="left:914.67px;top:1168.10px;transform:scaleX(0.7476)">1</div>
<div class="t r" style="left:930.43px;top:1168.10px;transform:scaleX(0.8689)">.</div>
<div class="t r" style="left:937.22px;top:1168.10px;transform:scaleX(0.9792)">7</div>
<div class="t r" style="left:19.03px;top:1209.60px;transform:scaleX(1.0629)">E</div>
<div class="t r" style="left:194.77px;top:1209.60px;transform:scaleX(0.7476)">1</div>
<div class="t r" style="left:210.53px;top:1209.60px;transform:scaleX(0.8689)">.</div>
<div class="t r" style="left:218.35px;top:1209.60px;transform:scaleX(1.0268)">2</div>
<svg class="pm" style="left:252.90px;top:1219px" width="20" height="22"><use href="#pmg"/></svg>
<div class="t r" style="left:290.06px;top:1209.60px;transform:scaleX(0.9865)">0</div>
<div class="t r" style="left:307.63px;top:1209.60px;transform:scaleX(0.8689)">.</div>
<div class="t r" style="left:315.17px;top:1209.60px;transform:scaleX(0.9323)">5</div>
<div class="t r" style="left:492.51px;top:1209.60px;transform:scaleX(0.8688)">3</div>
<div class="t r" style="left:509.63px;top:1209.60px;transform:scaleX(0.8689)">.</div>
<div class="t r" style="left:517.45px;top:1209.60px;transform:scaleX(1.0268)">2</div>
<svg class="pm" style="left:552.00px;top:1219px" width="20" height="22"><use href="#pmg"/></svg>
<div class="t r" style="left:590.97px;top:1209.60px;transform:scaleX(0.7476)">1</div>
<div class="t r" style="left:606.73px;top:1209.60px;transform:scaleX(0.8689)">.</div>
<div class="t r" style="left:614.62px;top:1209.60px;transform:scaleX(0.9865)">0</div>
<div class="t r" style="left:816.21px;top:1209.60px;transform:scaleX(0.8688)">3</div>
<div class="t r" style="left:833.33px;top:1209.60px;transform:scaleX(0.8689)">.</div>
<div class="t r" style="left:841.22px;top:1209.60px;transform:scaleX(0.9865)">0</div>
<svg class="pm" style="left:875.70px;top:1219px" width="20" height="22"><use href="#pmg"/></svg>
<div class="t r" style="left:912.79px;top:1209.60px;transform:scaleX(1.0268)">2</div>
<div class="t r" style="left:930.43px;top:1209.60px;transform:scaleX(0.8689)">.</div>
<div class="t r" style="left:938.61px;top:1209.60px;transform:scaleX(0.9154)">4</div>
<div class="t r" style="left:18.95px;top:1251.10px;transform:scaleX(1.1400)">F</div>
<div class="t r" style="left:192.89px;top:1251.10px;transform:scaleX(1.0268)">2</div>
<div class="t r" style="left:210.53px;top:1251.10px;transform:scaleX(0.8689)">.</div>
<div class="t r" style="left:218.65px;top:1251.10px;transform:scaleX(0.9396)">6</div>
<svg class="pm" style="left:252.90px;top:1260px" width="20" height="22"><use href="#pmg"/></svg>
<div class="t r" style="left:291.87px;top:1251.10px;transform:scaleX(0.7476)">1</div>
<div class="t r" style="left:307.63px;top:1251.10px;transform:scaleX(0.8689)">.</div>
<div class="t r" style="left:315.45px;top:1251.10px;transform:scaleX(1.0268)">2</div>
<div class="t r" style="left:491.99px;top:1251.10px;transform:scaleX(1.0268)">2</div>
<div class="t r" style="left:509.63px;top:1251.10px;transform:scaleX(0.8689)">.</div>
<div class="t r" style="left:517.97px;top:1251.10px;transform:scaleX(0.9299)">9</div>
<svg class="pm" style="left:552.00px;top:1260px" width="20" height="22"><use href="#pmg"/></svg>
<div class="t r" style="left:590.97px;top:1251.10px;transform:scaleX(0.7476)">1</div>
<div class="t r" style="left:606.73px;top:1251.10px;transform:scaleX(0.8689)">.</div>
<div class="t r" style="left:614.27px;top:1251.10px;transform:scaleX(0.9323)">5</div>
<div class="t r" style="left:817.57px;top:1251.10px;transform:scaleX(0.7476)">1</div>
<div class="t r" style="left:833.33px;top:1251.10px;transform:scaleX(0.8689)">.</div>
<div class="t r" style="left:841.45px;top:1251.10px;transform:scaleX(0.9396)">6</div>
<svg class="pm" style="left:875.70px;top:1260px" width="20" height="22"><use href="#pmg"/></svg>
<div class="t r" style="left:914.67px;top:1251.10px;transform:scaleX(0.7476)">1</div>
<div class="t r" style="left:930.43px;top:1251.10px;transform:scaleX(0.8689)">.</div>
<div class="t r" style="left:938.77px;top:1251.10px;transform:scaleX(0.8688)">3</div>
<div class="t r" style="left:18.20px;top:1292.60px;transform:scaleX(1.1123)">G</div>
<div class="t r" style="left:192.89px;top:1292.60px;transform:scaleX(1.0268)">2</div>
<div class="t r" style="left:210.53px;top:1292.60px;transform:scaleX(0.8689)">.</div>
<div class="t r" style="left:218.42px;top:1292.60px;transform:scaleX(0.9865)">0</div>
<svg class="pm" style="left:252.90px;top:1302px" width="20" height="22"><use href="#pmg"/></svg>
<div class="t r" style="left:290.06px;top:1292.60px;transform:scaleX(0.9865)">0</div>
<div class="t r" style="left:307.63px;top:1292.60px;transform:scaleX(0.8689)">.</div>
<div class="t r" style="left:315.97px;top:1292.60px;transform:scaleX(0.9299)">9</div>
<div class="t r" style="left:491.99px;top:1292.60px;transform:scaleX(1.0268)">2</div>
<div class="t r" style="left:509.63px;top:1292.60px;transform:scaleX(0.8689)">.</div>
<div class="t r" style="left:517.45px;top:1292.60px;transform:scaleX(1.0268)">2</div>
<svg class="pm" style="left:552.00px;top:1302px" width="20" height="22"><use href="#pmg"/></svg>
<div class="t r" style="left:590.97px;top:1292.60px;transform:scaleX(0.7476)">1</div>
<div class="t r" style="left:606.73px;top:1292.60px;transform:scaleX(0.8689)">.</div>
<div class="t r" style="left:615.07px;top:1292.60px;transform:scaleX(0.8688)">3</div>
<div class="t r" style="left:815.76px;top:1292.60px;transform:scaleX(0.9865)">0</div>
<div class="t r" style="left:833.33px;top:1292.60px;transform:scaleX(0.8689)">.</div>
<div class="t r" style="left:840.12px;top:1292.60px;transform:scaleX(0.9792)">7</div>
<svg class="pm" style="left:875.70px;top:1302px" width="20" height="22"><use href="#pmg"/></svg>
<div class="t r" style="left:912.86px;top:1292.60px;transform:scaleX(0.9865)">0</div>
<div class="t r" style="left:930.43px;top:1292.60px;transform:scaleX(0.8689)">.</div>
<div class="t r" style="left:938.77px;top:1292.60px;transform:scaleX(0.9299)">9</div>
<div class="t r" style="left:18.72px;top:1334.10px;transform:scaleX(1.0756)">H</div>
<div class="t r" style="left:192.96px;top:1334.10px;transform:scaleX(0.9865)">0</div>
<div class="t r" style="left:210.53px;top:1334.10px;transform:scaleX(0.8689)">.</div>
<div class="t r" style="left:218.35px;top:1334.10px;transform:scaleX(1.0268)">2</div>
<svg class="pm" style="left:252.90px;top:1343px" width="20" height="22"><use href="#pmg"/></svg>
<div class="t r" style="left:291.87px;top:1334.10px;transform:scaleX(0.7476)">1</div>
<div class="t r" style="left:307.63px;top:1334.10px;transform:scaleX(0.8689)">.</div>
<div class="t r" style="left:315.97px;top:1334.10px;transform:scaleX(0.8688)">3</div>
<div class="t r" style="left:493.87px;top:1334.10px;transform:scaleX(0.7476)">1</div>
<div class="t r" style="left:509.63px;top:1334.10px;transform:scaleX(0.8689)">.</div>
<div class="t r" style="left:518.74px;top:1334.10px;transform:scaleX(0.8490)">8</div>
<svg class="pm" style="left:552.00px;top:1343px" width="20" height="22"><use href="#pmg"/></svg>
<div class="t r" style="left:590.97px;top:1334.10px;transform:scaleX(0.7476)">1</div>
<div class="t r" style="left:606.73px;top:1334.10px;transform:scaleX(0.8689)">.</div>
<div class="t r" style="left:614.27px;top:1334.10px;transform:scaleX(0.9323)">5</div>
<div class="t r" style="left:815.69px;top:1334.10px;transform:scaleX(1.0268)">2</div>
<div class="t r" style="left:833.33px;top:1334.10px;transform:scaleX(0.8689)">.</div>
<div class="t r" style="left:841.22px;top:1334.10px;transform:scaleX(0.9865)">0</div>
<svg class="pm" style="left:875.70px;top:1343px" width="20" height="22"><use href="#pmg"/></svg>
<div class="t r" style="left:912.79px;top:1334.10px;transform:scaleX(1.0268)">2</div>
<div class="t r" style="left:930.43px;top:1334.10px;transform:scaleX(0.8689)">.</div>
<div class="t r" style="left:937.22px;top:1334.10px;transform:scaleX(0.9792)">7</div>
<div class="t r" style="left:18.24px;top:1375.60px;transform:scaleX(1.1572)">I</div>
<div class="t r" style="left:192.89px;top:1375.60px;transform:scaleX(1.0268)">2</div>
<div class="t r" style="left:210.53px;top:1375.60px;transform:scaleX(0.8689)">.</div>
<div class="t r" style="left:218.87px;top:1375.60px;transform:scaleX(0.9299)">9</div>
<svg class="pm" style="left:252.90px;top:1385px" width="20" height="22"><use href="#pmg"/></svg>
<div class="t r" style="left:290.06px;top:1375.60px;transform:scaleX(0.9865)">0</div>
<div class="t r" style="left:307.63px;top:1375.60px;transform:scaleX(0.8689)">.</div>
<div class="t r" style="left:315.17px;top:1375.60px;transform:scaleX(0.9323)">5</div>
<div class="t r" style="left:493.87px;top:1375.60px;transform:scaleX(0.7476)">1</div>
<div class="t r" style="left:509.63px;top:1375.60px;transform:scaleX(0.8689)">.</div>
<div class="t r" style="left:518.74px;top:1375.60px;transform:scaleX(0.8490)">8</div>
<svg class="pm" style="left:552.00px;top:1385px" width="20" height="22"><use href="#pmg"/></svg>
<div class="t r" style="left:590.97px;top:1375.60px;transform:scaleX(0.7476)">1</div>
<div class="t r" style="left:606.73px;top:1375.60px;transform:scaleX(0.8689)">.</div>
<div class="t r" style="left:614.27px;top:1375.60px;transform:scaleX(0.9323)">5</div>
<div class="t r" style="left:815.69px;top:1375.60px;transform:scaleX(1.0268)">2</div>
<div class="t r" style="left:833.33px;top:1375.60px;transform:scaleX(0.8689)">.</div>
<div class="t r" style="left:840.12px;top:1375.60px;transform:scaleX(0.9792)">7</div>
<svg class="pm" style="left:875.70px;top:1385px" width="20" height="22"><use href="#pmg"/></svg>
<div class="t r" style="left:914.67px;top:1375.60px;transform:scaleX(0.7476)">1</div>
<div class="t r" style="left:930.43px;top:1375.60px;transform:scaleX(0.8689)">.</div>
<div class="t r" style="left:937.22px;top:1375.60px;transform:scaleX(0.9792)">7</div>
<div class="t r" style="left:17.89px;top:1442.90px;letter-spacing:0.75px">Product</div>
<div class="t i" style="left:195.23px;top:1443.90px;letter-spacing:1.025px;transform:scaleX(0.9400)">Salmonella</div>
<div class="t r" style="left:357.58px;top:1442.90px;transform:scaleX(0.9909)">sp.</div>
<div class="t r" style="left:18.65px;top:1483.90px;transform:scaleX(1.0131)">A</div>
<div class="t r" style="left:193.41px;top:1483.90px;transform:scaleX(0.8688)">3</div>
<div class="t r" style="left:210.53px;top:1483.90px;transform:scaleX(0.8689)">.</div>
<div class="t r" style="left:218.87px;top:1483.90px;transform:scaleX(0.9299)">9</div>
<svg class="pm" style="left:252.90px;top:1493px" width="20" height="22"><use href="#pmg"/></svg>
<div class="t r" style="left:291.87px;top:1483.90px;transform:scaleX(0.7476)">1</div>
<div class="t r" style="left:307.63px;top:1483.90px;transform:scaleX(0.8689)">.</div>
<div class="t r" style="left:315.81px;top:1483.90px;transform:scaleX(0.9154)">4</div>
<div class="t r" style="left:19.14px;top:1525.40px;transform:scaleX(0.9502)">B</div>
<div class="t r" style="left:193.41px;top:1525.40px;transform:scaleX(0.8688)">3</div>
<div class="t r" style="left:210.53px;top:1525.40px;transform:scaleX(0.8689)">.</div>
<div class="t r" style="left:218.07px;top:1525.40px;transform:scaleX(0.9323)">5</div>
<svg class="pm" style="left:252.90px;top:1534px" width="20" height="22"><use href="#pmg"/></svg>
<div class="t r" style="left:291.87px;top:1525.40px;transform:scaleX(0.7476)">1</div>
<div class="t r" style="left:307.63px;top:1525.40px;transform:scaleX(0.8689)">.</div>
<div class="t r" style="left:315.52px;top:1525.40px;transform:scaleX(0.9865)">0</div>
<div class="t r" style="left:18.53px;top:1566.90px;transform:scaleX(1.0912)">C</div>
<div class="t r" style="left:193.41px;top:1566.90px;transform:scaleX(0.8688)">3</div>
<div class="t r" style="left:210.53px;top:1566.90px;transform:scaleX(0.8689)">.</div>
<div class="t r" style="left:218.87px;top:1566.90px;transform:scaleX(0.9299)">9</div>
<svg class="pm" style="left:252.90px;top:1576px" width="20" height="22"><use href="#pmg"/></svg>
<div class="t r" style="left:290.06px;top:1566.90px;transform:scaleX(0.9865)">0</div>
<div class="t r" style="left:307.63px;top:1566.90px;transform:scaleX(0.8689)">.</div>
<div class="t r" style="left:314.42px;top:1566.90px;transform:scaleX(0.9792)">7</div>
<div class="t r" style="left:19.02px;top:1608.40px;transform:scaleX(1.0714)">D</div>
<div class="t r" style="left:193.41px;top:1608.40px;transform:scaleX(0.8688)">3</div>
<div class="t r" style="left:210.53px;top:1608.40px;transform:scaleX(0.8689)">.</div>
<div class="t r" style="left:220.23px;top:1608.40px;transform:scaleX(0.7476)">1</div>
<svg class="pm" style="left:252.90px;top:1617px" width="20" height="22"><use href="#pmg"/></svg>
<div class="t r" style="left:291.87px;top:1608.40px;transform:scaleX(0.7476)">1</div>
<div class="t r" style="left:307.63px;top:1608.40px;transform:scaleX(0.8689)">.</div>
<div class="t r" style="left:315.52px;top:1608.40px;transform:scaleX(0.9865)">0</div>
<div class="t r" style="left:19.03px;top:1649.90px;transform:scaleX(1.0629)">E</div>
<div class="t r" style="left:193.41px;top:1649.90px;transform:scaleX(0.8688)">3</div>
<div class="t r" style="left:210.53px;top:1649.90px;transform:scaleX(0.8689)">.</div>
<div class="t r" style="left:218.87px;top:1649.90px;transform:scaleX(0.9299)">9</div>
<svg class="pm" style="left:252.90px;top:1659px" width="20" height="22"><use href="#pmg"/></svg>
<div class="t r" style="left:290.06px;top:1649.90px;transform:scaleX(0.9865)">0</div>
<div class="t r" style="left:307.63px;top:1649.90px;transform:scaleX(0.8689)">.</div>
<div class="t r" style="left:314.42px;top:1649.90px;transform:scaleX(0.9792)">7</div>
<div class="t r" style="left:18.95px;top:1691.40px;transform:scaleX(1.1400)">F</div>
<div class="t r" style="left:192.89px;top:1691.40px;transform:scaleX(1.0268)">2</div>
<div class="t r" style="left:210.53px;top:1691.40px;transform:scaleX(0.8689)">.</div>
<div class="t r" style="left:217.32px;top:1691.40px;transform:scaleX(0.9792)">7</div>
<svg class="pm" style="left:252.90px;top:1700px" width="20" height="22"><use href="#pmg"/></svg>
<div class="t r" style="left:291.87px;top:1691.40px;transform:scaleX(0.7476)">1</div>
<div class="t r" style="left:307.63px;top:1691.40px;transform:scaleX(0.8689)">.</div>
<div class="t r" style="left:314.42px;top:1691.40px;transform:scaleX(0.9792)">7</div>
<div class="t r" style="left:18.20px;top:1732.90px;transform:scaleX(1.1123)">G</div>
<div class="t r" style="left:193.41px;top:1732.90px;transform:scaleX(0.8688)">3</div>
<div class="t r" style="left:210.53px;top:1732.90px;transform:scaleX(0.8689)">.</div>
<div class="t r" style="left:220.23px;top:1732.90px;transform:scaleX(0.7476)">1</div>
<svg class="pm" style="left:252.90px;top:1742px" width="20" height="22"><use href="#pmg"/></svg>
<div class="t r" style="left:291.87px;top:1732.90px;transform:scaleX(0.7476)">1</div>
<div class="t r" style="left:307.63px;top:1732.90px;transform:scaleX(0.8689)">.</div>
<div class="t r" style="left:315.52px;top:1732.90px;transform:scaleX(0.9865)">0</div>
<div class="t r" style="left:18.72px;top:1774.40px;transform:scaleX(1.0756)">H</div>
<div class="t r" style="left:193.41px;top:1774.40px;transform:scaleX(0.8688)">3</div>
<div class="t r" style="left:210.53px;top:1774.40px;transform:scaleX(0.8689)">.</div>
<div class="t r" style="left:218.07px;top:1774.40px;transform:scaleX(0.9323)">5</div>
<svg class="pm" style="left:252.90px;top:1783px" width="20" height="22"><use href="#pmg"/></svg>
<div class="t r" style="left:291.87px;top:1774.40px;transform:scaleX(0.7476)">1</div>
<div class="t r" style="left:307.63px;top:1774.40px;transform:scaleX(0.8689)">.</div>
<div class="t r" style="left:315.45px;top:1774.40px;transform:scaleX(1.0268)">2</div>
<div class="t r" style="left:18.24px;top:1815.90px;transform:scaleX(1.1572)">I</div>
<div class="t r" style="left:192.89px;top:1815.90px;transform:scaleX(1.0268)">2</div>
<div class="t r" style="left:210.53px;top:1815.90px;transform:scaleX(0.8689)">.</div>
<div class="t r" style="left:218.87px;top:1815.90px;transform:scaleX(0.9299)">9</div>
<svg class="pm" style="left:252.90px;top:1825px" width="20" height="22"><use href="#pmg"/></svg>
<div class="t r" style="left:291.87px;top:1815.90px;transform:scaleX(0.7476)">1</div>
<div class="t r" style="left:307.63px;top:1815.90px;transform:scaleX(0.8689)">.</div>
<div class="t r" style="left:315.81px;top:1815.90px;transform:scaleX(0.9154)">4</div>
</div>
</body></html>
